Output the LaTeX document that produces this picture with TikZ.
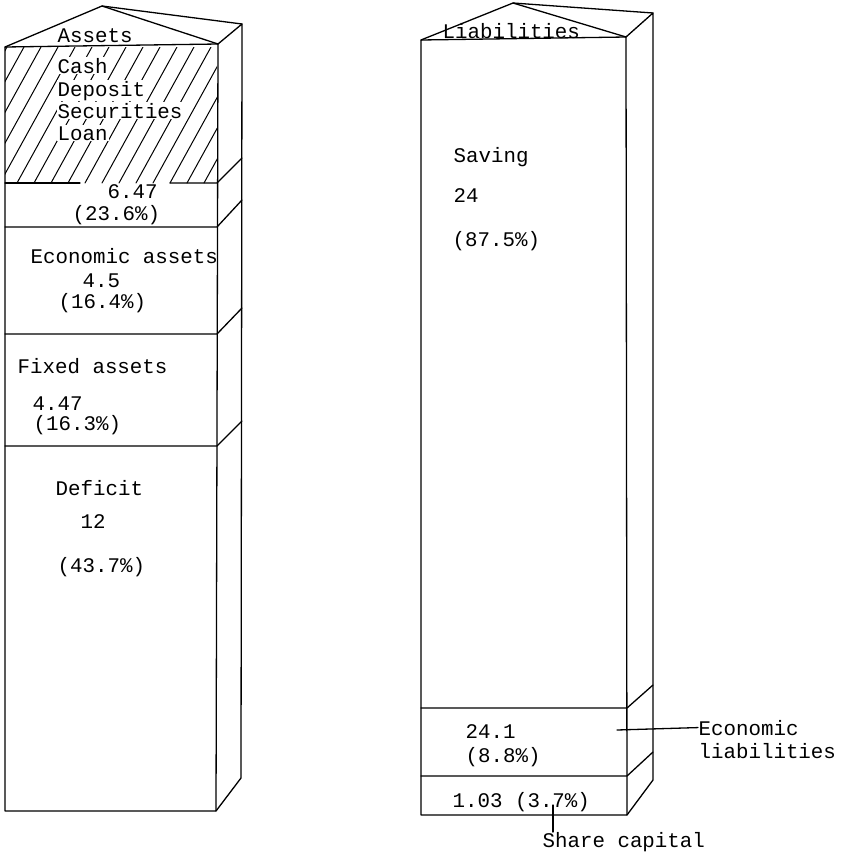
\documentclass[tikz,border=0pt]{standalone}
\usepackage{fontspec}
\setmonofont{Liberation Mono}
\begin{document}
\begin{tikzpicture}[x=1pt,y=-1pt,
  line width=1.3pt, line join=round, line cap=round,
  lbl/.style={font=\ttfamily\fontsize{20.8}{22.5}\selectfont, inner sep=0pt, anchor=base west},
  hlbl/.style={lbl, fill=white, inner sep=1pt},
  hatchline/.style={line width=1.0pt}]
\useasboundingbox (0,0) rectangle (842,854);

% ---------- left column (Assets) ----------
\coordinate (LA) at (5,47);
\coordinate (LB) at (218,44);
\coordinate (LC) at (242,24);
\coordinate (LP) at (102,6);
\coordinate (LD) at (5,811);
\coordinate (LE) at (216,811);
\coordinate (LF) at (241,778);

% hatching
\begin{scope}
  \clip (5,47) rectangle (217,183);
  \foreach \k in {-5,...,13} {
    \draw[hatchline] ({\k*17},183) -- ({\k*17+75},47);
  }
\end{scope}

\draw (LA) -- (LB) -- (LE) -- (LD) -- cycle;
\draw (LB) -- (LC) -- (LF) -- (LE);
\draw (LA) -- (LP) -- (LB);
\draw (LP) -- (LC);

% dividers
\coordinate (d1a) at (5,183);   \coordinate (d1g) at (80,183);
\coordinate (d1h) at (170,183); \coordinate (d1b) at (217,183); \coordinate (d1c) at (242,158);
\coordinate (d2a) at (5,227);   \coordinate (d2b) at (217,227); \coordinate (d2c) at (242,200);
\coordinate (d3a) at (5,334);   \coordinate (d3b) at (217,334); \coordinate (d3c) at (242,308);
\coordinate (d4a) at (5,446);   \coordinate (d4b) at (217,446); \coordinate (d4c) at (242,421);
\draw (d1a) -- (d1g);
\draw (d1h) -- (d1b) -- (d1c);
\draw (d2a) -- (d2b) -- (d2c);
\draw (d3a) -- (d3b) -- (d3c);
\draw (d4a) -- (d4b) -- (d4c);

\node[lbl] (assets) at (57,42) {Assets};
\node[hlbl] (cash) at (56,73) {Cash};
\node[hlbl] (deposit) at (56,96) {Deposit};
\node[hlbl] (securities) at (56,118) {Securities};
\node[hlbl] (loan) at (56,140) {Loan};
\node[lbl] (v1) at (107,198) {6.47};
\node[lbl] (p1) at (72,220) {(23.6\%)};
\node[lbl] (econ) at (30,263) {Economic assets};
\node[lbl] (v2) at (82,287) {4.5};
\node[lbl] (p2) at (58,308) {(16.4\%)};
\node[lbl] (fixed) at (17,373) {Fixed assets};
\node[lbl] (v3) at (32,410) {4.47};
\node[lbl] (p3) at (33,430) {(16.3\%)};
\node[lbl] (deficit) at (55,495) {Deficit};
\node[lbl] (v4) at (80,528) {12};
\node[lbl] (p4) at (57,572) {(43.7\%)};

% ---------- right column (Liabilities) ----------
\coordinate (RA) at (421,40);
\coordinate (RB) at (626,37);
\coordinate (RC) at (653,13);
\coordinate (RP) at (513,3);
\coordinate (RD) at (421,815);
\coordinate (RE) at (627,815);
\coordinate (RF) at (653,780);

\draw (RA) -- (RB) -- (RE) -- (RD) -- cycle;
\draw (RB) -- (RC) -- (RF) -- (RE);
\draw (RA) -- (RP) -- (RB);
\draw (RP) -- (RC);

\coordinate (r1a) at (421,708); \coordinate (r1b) at (627,708); \coordinate (r1c) at (653,685);
\coordinate (r2a) at (421,776); \coordinate (r2b) at (627,776); \coordinate (r2c) at (653,752);
\draw (r1a) -- (r1b) -- (r1c);
\draw (r2a) -- (r2b) -- (r2c);

\node[lbl] (liab) at (442,38) {Liabilities};
\node[lbl] (saving) at (453,162) {Saving};
\node[lbl] (v5) at (453,202) {24};
\node[lbl] (p5) at (452,246) {(87.5\%)};
\node[lbl] (v6) at (465,738) {24.1};
\node[lbl] (p6) at (465,762) {(8.8\%)};
\node[lbl] (share) at (452,807) {1.03 (3.7\%)};

\node[lbl] (el) at (698,735) {Economic};
\node[lbl] (el2) at (698,758) {liabilities};
\coordinate (elstart) at (617,730);
\draw (elstart) -- (el.west);

\node[lbl] (sc) at (542,847) {Share capital};
\coordinate (scstart) at (553,805);
\coordinate (scend) at (553,832);
\draw (scstart) -- (scend);
\end{tikzpicture}
\end{document}
